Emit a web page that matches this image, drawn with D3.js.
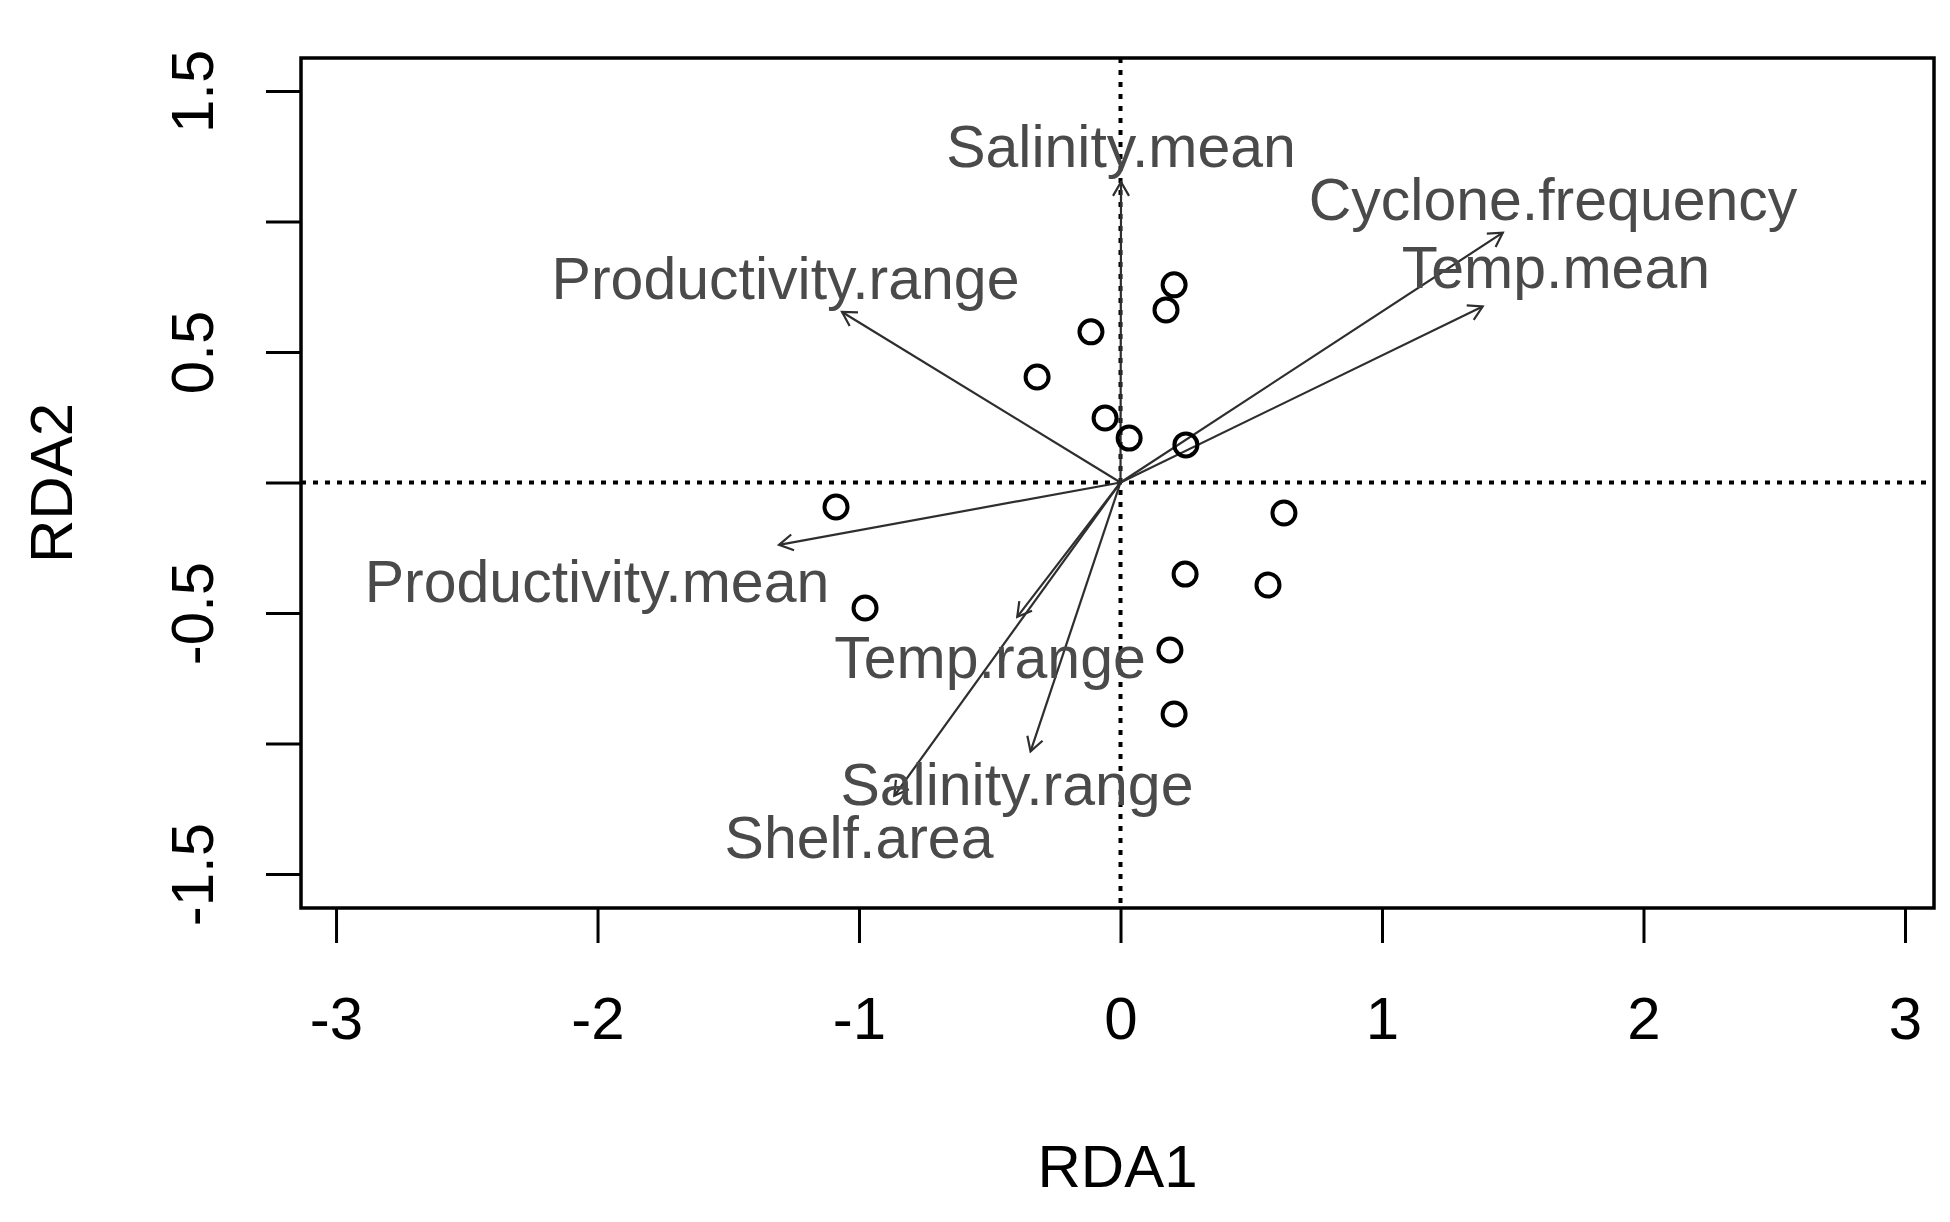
<!DOCTYPE html>
<html>
<head>
<meta charset="utf-8">
<script src="https://cdn.jsdelivr.net/npm/d3@7"></script>
<style>
  body { margin: 0; background: #fff; }
  text { font-family: "Liberation Sans", Arial, Helvetica, sans-serif; }
</style>
</head>
<body>
<div id="my_dataviz"></div>
<script>
// site scores (RDA1, RDA2)
var siteX = [0.205, 0.174, -0.113, -0.319, -0.059, 0.033, 0.250, -1.088, 0.625, 0.247, 0.564, -0.977, 0.189, 0.205];
var siteY = [0.757, 0.661, 0.577, 0.404, 0.247, 0.170, 0.144, -0.094, -0.117, -0.351, -0.393, -0.481, -0.642, -0.887];

// environmental variables: arrow tips and label anchors (RDA1, RDA2)
var envNames = ["Salinity.mean", "Cyclone.frequency", "Temp.mean", "Productivity.range",
                "Productivity.mean", "Temp.range", "Salinity.range", "Shelf.area"];
var arrowX = [0.002, 1.462, 1.385, -1.065, -1.306, -0.395, -0.344, -0.865];
var arrowY = [1.151, 0.957, 0.674, 0.653, -0.239, -0.515, -1.030, -1.200];
var labelX = [0.002, 1.654, 1.665, -1.281, -2.002, -0.499, -0.396, -1.000];
var labelY = [1.291, 1.088, 0.828, 0.785, -0.375, -0.667, -1.153, -1.356];

// axis ticks
var xTicks = [-3, -2, -1, 0, 1, 2, 3];
var xTickLabels = ["-3", "-2", "-1", "0", "1", "2", "3"];
var yTicks = [-1.5, -1, -0.5, 0, 0.5, 1, 1.5];
var yTickLabels = ["-1.5", "", "-0.5", "", "0.5", "", "1.5"];

var margin = {top: 58, right: 16, bottom: 314, left: 301},
    width = 1950 - margin.left - margin.right,
    height = 1222 - margin.top - margin.bottom;

var svg = d3.select("#my_dataviz")
  .append("svg")
    .attr("width", 1950)
    .attr("height", 1222)
  .append("g")
    .attr("transform", "translate(" + margin.left + "," + margin.top + ")");

var x = d3.scaleLinear().domain([-3.134, 3.111]).range([0, width]);
var y = d3.scaleLinear().domain([-1.630, 1.626]).range([height, 0]);

// X axis
var xAxis = svg.append("g")
  .attr("transform", "translate(0," + height + ")")
  .call(d3.axisBottom(x).tickValues(xTicks)
    .tickFormat(function(d, i) { return xTickLabels[i]; })
    .tickSize(35).tickPadding(53));
xAxis.select(".domain").remove();
xAxis.selectAll("line").attr("stroke", "#000").attr("stroke-width", 3);
xAxis.selectAll("text").attr("fill", "#000").style("font-size", "60px");

// Y axis, labels turned parallel to the axis
var yAxis = svg.append("g")
  .call(d3.axisLeft(y).tickValues(yTicks)
    .tickFormat(function(d, i) { return yTickLabels[i]; })
    .tickSize(35));
yAxis.select(".domain").remove();
yAxis.selectAll("line").attr("stroke", "#000").attr("stroke-width", 3);
yAxis.selectAll("text")
  .attr("fill", "#000")
  .style("font-size", "60px")
  .attr("x", 0)
  .attr("y", -88)
  .attr("dy", 0)
  .attr("text-anchor", "middle")
  .attr("transform", "rotate(-90)");

// zero lines
svg.append("line")
  .attr("x1", 0).attr("x2", width)
  .attr("y1", y(0)).attr("y2", y(0))
  .attr("stroke", "#000").attr("stroke-width", 4)
  .attr("stroke-dasharray", "5 7");
svg.append("line")
  .attr("x1", x(0)).attr("x2", x(0))
  .attr("y1", 0).attr("y2", height)
  .attr("stroke", "#000").attr("stroke-width", 4)
  .attr("stroke-dasharray", "5 7");

// biplot arrows
var envData = envNames.map(function(n, i) {
  return {name: n, x: arrowX[i], y: arrowY[i], lx: labelX[i], ly: labelY[i]};
});

svg.selectAll("line.arrow")
  .data(envData)
  .enter()
  .append("line")
    .attr("class", "arrow")
    .attr("x1", x(0)).attr("y1", y(0))
    .attr("x2", function(d) { return x(d.x); })
    .attr("y2", function(d) { return y(d.y); })
    .attr("stroke", "#2e2e2e")
    .attr("stroke-width", 2.2);

var headLen = 16, headAng = Math.PI / 6;
svg.selectAll("path.head")
  .data(envData)
  .enter()
  .append("path")
    .attr("class", "head")
    .attr("fill", "none")
    .attr("stroke", "#2e2e2e")
    .attr("stroke-width", 2.2)
    .attr("d", function(d) {
      var tx = x(d.x), ty = y(d.y);
      var a = Math.atan2(ty - y(0), tx - x(0));
      var p = d3.path();
      p.moveTo(tx - headLen * Math.cos(a - headAng), ty - headLen * Math.sin(a - headAng));
      p.lineTo(tx, ty);
      p.lineTo(tx - headLen * Math.cos(a + headAng), ty - headLen * Math.sin(a + headAng));
      return p.toString();
    });

// site points
svg.selectAll("circle")
  .data(siteX)
  .enter()
  .append("circle")
    .attr("cx", function(d) { return x(d); })
    .attr("cy", function(d, i) { return y(siteY[i]); })
    .attr("r", 11.5)
    .attr("fill", "none")
    .attr("stroke", "#000")
    .attr("stroke-width", 4);

// arrow labels
svg.selectAll("text.env")
  .data(envData)
  .enter()
  .append("text")
    .attr("class", "env")
    .attr("x", function(d) { return x(d.lx); })
    .attr("y", function(d) { return y(d.ly); })
    .attr("dy", "0.36em")
    .attr("text-anchor", "middle")
    .attr("fill", "#4a4a4a")
    .style("font-size", "59px")
    .text(function(d) { return d.name; });

// box
svg.append("rect")
  .attr("x", 0).attr("y", 0)
  .attr("width", width).attr("height", height)
  .attr("fill", "none")
  .attr("stroke", "#000")
  .attr("stroke-width", 3.5);

// axis titles
svg.append("text")
  .attr("x", width / 2)
  .attr("y", 1187 - margin.top)
  .attr("text-anchor", "middle")
  .style("font-size", "60px")
  .text("RDA1");

svg.append("text")
  .attr("transform", "translate(" + (72 - margin.left) + "," + (height / 2) + ") rotate(-90)")
  .attr("text-anchor", "middle")
  .style("font-size", "60px")
  .text("RDA2");
</script>
</body>
</html>
